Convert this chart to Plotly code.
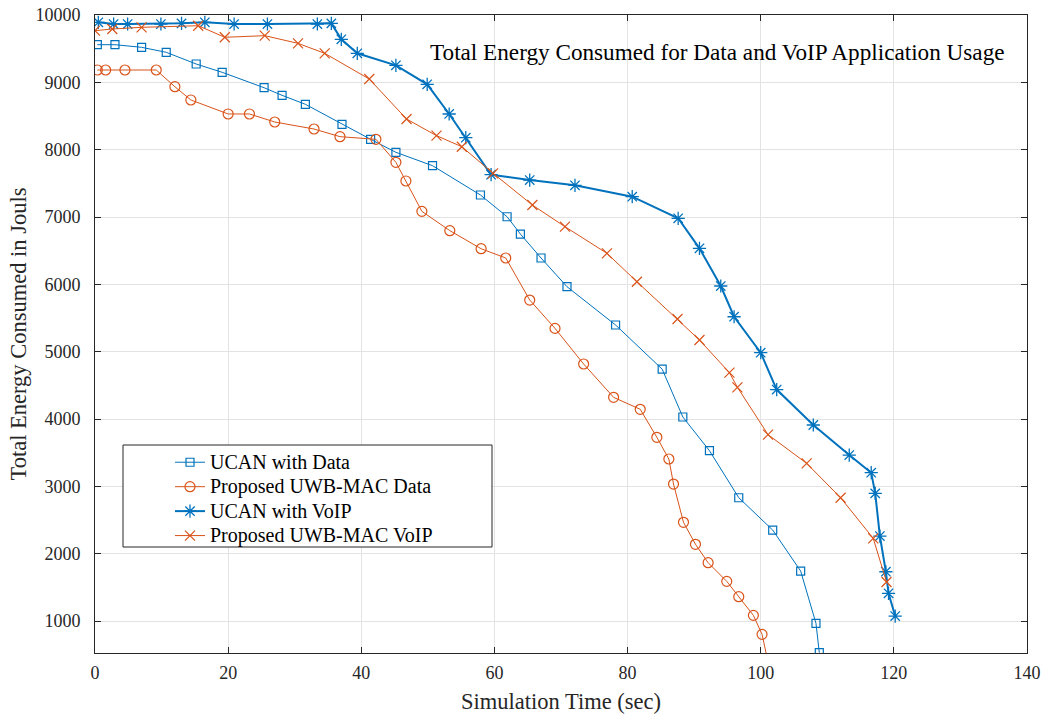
import plotly.graph_objects as go

# ---- data ----
ucan_data_x = [0.35, 3.0, 7.0, 10.7, 15.2, 19.1, 25.4, 28.1, 31.6, 37.1, 41.4, 45.2, 50.7, 57.9,
               61.9, 63.9, 67.0, 70.9, 78.2, 85.2, 88.3, 92.3, 96.7, 101.8, 106.0, 108.3, 108.8]
ucan_data_y = [9559, 9559, 9520, 9446, 9272, 9149, 8920, 8807, 8674, 8377, 8154, 7961, 7762, 7327,
               7004, 6747, 6391, 5965, 5396, 4740, 4030, 3530, 2831, 2351, 1742, 965, 530]

uwb_data_x = [0.35, 1.6, 4.5, 9.2, 12.0, 14.4, 20.0, 23.2, 27.0, 32.9, 36.8, 42.2, 45.2, 46.7,
              49.1, 53.3, 58.0, 61.7, 65.3, 69.1, 73.4, 77.9, 81.9, 84.4, 86.2, 86.9, 88.4, 90.2,
              92.1, 94.9, 96.7, 98.9, 100.2, 101.3]
uwb_data_y = [9183, 9183, 9183, 9183, 8935, 8738, 8530, 8530, 8411, 8307, 8193, 8154, 7812, 7535,
              7084, 6797, 6529, 6391, 5767, 5346, 4817, 4322, 4144, 3728, 3406, 3034, 2466, 2139,
              1866, 1589, 1361, 1084, 802, 300]

ucan_voip_x = [0.5, 2.8, 4.9, 9.9, 13.0, 16.5, 20.9, 25.9, 33.4, 35.5, 37.0, 39.4, 45.2, 49.9,
               53.2, 55.7, 59.5, 65.3, 72.1, 80.7, 87.6, 90.8, 94.0, 96.0, 100.0, 102.4, 107.9,
               113.3, 116.6, 117.2, 117.9, 118.8, 119.2, 120.2]
ucan_voip_y = [9891, 9866, 9866, 9866, 9876, 9891, 9866, 9866, 9866, 9876, 9639, 9431, 9253, 8971,
               8530, 8178, 7628, 7549, 7471, 7302, 6981, 6535, 5975, 5519, 4985, 4437, 3911,
               3465, 3203, 2896, 2262, 1732, 1411, 1074]

uwb_voip_x = [0.0, 2.6, 7.0, 15.5, 19.5, 25.5, 30.5, 34.5, 41.2, 46.8, 51.3, 55.1, 59.8, 65.7,
              70.6, 76.9, 81.4, 87.5, 90.8, 95.3, 96.5, 101.1, 106.9, 112.0, 116.9, 118.9]
uwb_voip_y = [9767, 9792, 9817, 9841, 9669, 9693, 9579, 9431, 9049, 8455, 8208, 8044, 7649, 7178,
              6856, 6461, 6039, 5485, 5173, 4688, 4471, 3768, 3342, 2831, 2228, 1580]

names = ["UCAN with Data", "Proposed UWB-MAC Data", "UCAN with VoIP", "Proposed UWB-MAC VoIP"]
x_ticks = [0, 20, 40, 60, 80, 100, 120, 140]
y_ticks = [1000, 2000, 3000, 4000, 5000, 6000, 7000, 8000, 9000, 10000]

title_text = "Total Energy Consumed for Data and VoIP Application Usage"
x_label = "Simulation Time (sec)"
y_label = "Total Energy Consumed in Jouls"

BLUE = "#0072BD"
ORANGE = "#D95319"
FONT = "Liberation Serif"


def leg(name):
    return '<span style="font-size:20px">' + name + '</span>'


fig = go.Figure()
fig.add_trace(go.Scatter(x=ucan_data_x, y=ucan_data_y, mode="lines+markers", name=leg(names[0]),
                         legendgroup="a",
                         line=dict(color=BLUE, width=1),
                         marker=dict(symbol="square-open", size=8, color=BLUE, line=dict(width=1.2))))
fig.add_trace(go.Scatter(x=uwb_data_x, y=uwb_data_y, mode="lines+markers", name=leg(names[1]),
                         legendgroup="b",
                         line=dict(color=ORANGE, width=1),
                         marker=dict(symbol="circle-open", size=10, color=ORANGE, line=dict(width=1.2))))
fig.add_trace(go.Scatter(x=ucan_voip_x, y=ucan_voip_y, mode="lines+markers", name=leg(names[2]),
                         legendgroup="c",
                         line=dict(color=BLUE, width=2),
                         marker=dict(symbol="asterisk-open", size=11, color=BLUE, line=dict(width=1.3, color=BLUE))))
fig.add_trace(go.Scatter(x=uwb_voip_x, y=uwb_voip_y, mode="lines+markers", name=leg(names[3]),
                         legendgroup="d",
                         line=dict(color=ORANGE, width=1),
                         marker=dict(symbol="x-thin-open", size=10, color=ORANGE, line=dict(width=1.2, color=ORANGE))))

L, R, T, B = 95, 21, 15, 62
W, H = 1048, 715
pw, ph = W - L - R, H - T - B


def px2paper_x(px):
    return (px - L) / pw


def px2paper_y(py):
    return (H - B - py) / ph


# legend box (MATLAB style, white background)
fig.add_shape(type="rect", xref="paper", yref="paper",
              x0=px2paper_x(123), x1=px2paper_x(492), y0=px2paper_y(547), y1=px2paper_y(445),
              line=dict(color="#262626", width=1), fillcolor="white", layer="above")

fig.add_annotation(text=title_text, xref="paper", yref="paper",
                   x=px2paper_x(1007), y=px2paper_y(52), xanchor="right", yanchor="middle",
                   showarrow=False, font=dict(family=FONT, size=23.2, color="#000000"))

axis_common = dict(showline=True, linecolor="#262626", linewidth=1, mirror="ticks",
                   ticks="inside", ticklen=6, tickcolor="#262626", tickwidth=1,
                   showgrid=True, gridcolor="#e3e3e3", gridwidth=1, zeroline=False,
                   tickfont=dict(family=FONT, size=18, color="#262626"))

fig.update_xaxes(range=[0, 140], tickvals=x_ticks, ticktext=[str(v) for v in x_ticks],
                 title=dict(text=x_label, font=dict(family=FONT, size=22.5, color="#262626"), standoff=11),
                 ticklabelstandoff=3,
                 **axis_common)
fig.update_yaxes(range=[525, 10000], tickvals=y_ticks, ticktext=[str(v) for v in y_ticks],
                 title=dict(text=y_label, font=dict(family=FONT, size=22.5, color="#262626"), standoff=2),
                 ticklabelstandoff=10,
                 **axis_common)

fig.update_layout(
    width=W, height=H,
    margin=dict(l=L, r=R, t=T, b=B, autoexpand=False),
    paper_bgcolor="white", plot_bgcolor="white",
    font=dict(family=FONT, color="#262626"),
    showlegend=True,
    legend=dict(x=px2paper_x(170), y=px2paper_y(445), xanchor="left", yanchor="top",
                bgcolor="rgba(0,0,0,0)", borderwidth=0, traceorder="grouped", tracegroupgap=0,
                font=dict(family=FONT, size=16.5, color="#000000"), itemwidth=30),
)

fig.write_html("out.html", config={"displayModeBar": False},
               post_script="document.body.style.margin='0';document.body.style.padding='0';")
